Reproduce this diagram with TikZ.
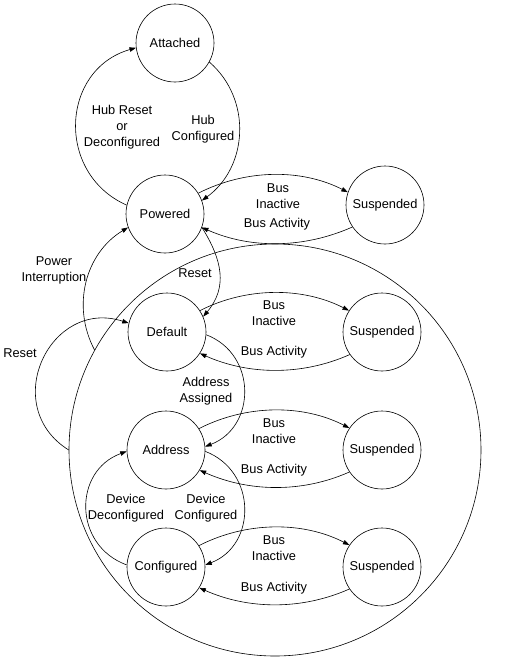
\documentclass[tikz,border=0pt]{standalone}
\usepackage{fontspec}
\setmainfont{Liberation Sans}
\usetikzlibrary{arrows.meta}

\begin{document}
\begin{tikzpicture}[
    x=1pt, y=1pt,
    state/.style={
        circle,
        draw,
        line width=0.6pt,
        minimum size=78pt,
        inner sep=0pt,
        font=\fontsize{12.8}{16}\selectfont
    },
    trans/.style={
        -{Triangle[length=6.5pt,width=4.5pt]},
        line width=0.6pt
    },
    lbl/.style={
        align=center,
        inner sep=0pt,
        font=\fontsize{12.8}{16}\selectfont
    }
]

\useasboundingbox (0,0) rectangle (507,-665);

% Powered region
\node[state, minimum size=412pt] (region) at (275,-450) {};

% States
\node[state] (attached) at (175,-43) {Attached};
\node[state] (powered) at (165,-214) {Powered};
\node[state] (suspP) at (385,-205) {Suspended};
\node[state] (default) at (167,-332) {Default};
\node[state] (suspD) at (382,-332) {Suspended};
\node[state] (address) at (166,-450) {Address};
\node[state] (suspA) at (382,-450) {Suspended};
\node[state] (configured) at (166,-567) {Configured};
\node[state] (suspC) at (382,-567) {Suspended};

% Attached <-> Powered
\draw[trans] (powered.167) to[out=156, in=196, looseness=1.27] (attached.187);
\draw[trans] (attached.331) to[out=-41, in=36, looseness=1.05] (powered.20);

% Powered <-> Suspended
\draw[trans] (powered.32) to[out=27, in=153, looseness=0.9] (suspP.161);
\draw[trans] (suspP.214) to[out=204, in=336, looseness=0.9] (powered.-20);

% Default <-> Suspended
\draw[trans] (default.33) to[out=27, in=153, looseness=0.9] (suspD.147);
\draw[trans] (suspD.215) to[out=204, in=336, looseness=0.9] (default.-33);

% Address <-> Suspended
\draw[trans] (address.33) to[out=27, in=153, looseness=0.9] (suspA.146);
\draw[trans] (suspA.214) to[out=204, in=336, looseness=0.9] (address.-31);

% Configured <-> Suspended
\draw[trans] (configured.33) to[out=27, in=153, looseness=0.9] (suspC.146);
\draw[trans] (suspC.214) to[out=204, in=336, looseness=0.9] (configured.-32);

% Reset, power interruption
\draw[trans] (powered.-20) to[out=-58, in=50, looseness=1.1] (default.23);
\draw[trans] (region.151) to[out=118, in=211, looseness=1] (powered.200);
\draw[trans] (region.180) to[out=148, in=162, looseness=1.51] (default.167);

% Address, configuration
\draw[trans] (default.-4) to[out=-21, in=21, looseness=1.25] (address.5);
\draw[trans] (address.-2) to[out=-21, in=21, looseness=1.25] (configured.3);
\draw[trans] (configured.177) to[out=160, in=200, looseness=1.29] (address.182);

% Labels
\node[lbl] (hubreset) at (122,-127.5) {Hub Reset\\or\\Deconfigured};
\node[lbl] (hubconf) at (203,-129.5) {Hub\\Configured};
\node[lbl] (inactP) at (278,-196.5) {Bus\\Inactive};
\node[lbl] (activP) at (277,-224.5) {Bus Activity};
\node[lbl] (inactD) at (274,-313.5) {Bus\\Inactive};
\node[lbl] (activD) at (274,-352.5) {Bus Activity};
\node[lbl] (inactA) at (274,-431.5) {Bus\\Inactive};
\node[lbl] (activA) at (274,-470.5) {Bus Activity};
\node[lbl] (inactC) at (274,-548.5) {Bus\\Inactive};
\node[lbl] (activC) at (274,-588.5) {Bus Activity};
\node[lbl] (assigned) at (206,-391.5) {Address\\Assigned};
\node[lbl] (deconf) at (126,-508.5) {Device\\Deconfigured};
\node[lbl] (devconf) at (206,-508.5) {Device\\Configured};
\node[lbl] (powerint) at (54,-270.5) {Power\\Interruption};
\node[lbl] (resetP) at (195,-273.5) {Reset};
\node[lbl] (resetR) at (20,-353.5) {Reset};

\end{tikzpicture}
\end{document}
